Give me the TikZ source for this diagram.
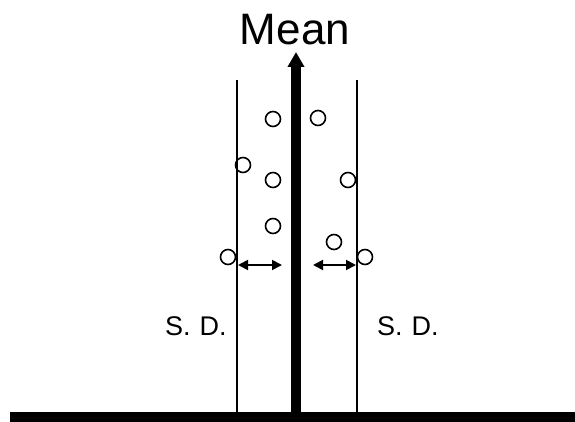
\documentclass[tikz,border=0pt]{standalone}
\usepackage{fontspec}
\setmainfont{Liberation Sans}
\usetikzlibrary{arrows.meta}
\begin{document}
\begin{tikzpicture}[x=1pt,y=-1pt,
  pt/.style={circle,draw,line width=1.6pt,minimum size=15pt,inner sep=0pt},
  sdline/.style={line width=1.4pt},
  sdarrow/.style={line width=1.8pt,{Triangle[length=10pt,width=10pt]}-{Triangle[length=10pt,width=10pt]}},
  lbl/.style={inner sep=0pt,anchor=base}]
\useasboundingbox (0,0) rectangle (575,422);
% bottom bar
\fill (10,412) rectangle (575,422);
% SD lines
\coordinate (lt) at (237,80); \coordinate (lb) at (237,412);
\coordinate (rt) at (357,80); \coordinate (rb) at (357,412);
\draw[sdline] (lt) -- (lb);
\draw[sdline] (rt) -- (rb);
% mean arrow
\coordinate (mb) at (296,412); \coordinate (mt) at (296,52);
\draw[line width=10pt,-{Triangle[length=15pt,width=16pt]}] (mb) -- (mt);
\node[lbl,font=\fontsize{44}{44}\selectfont] (mean) at (295,45) {Mean};
% points
\node[pt] (p1) at (273,119) {};
\node[pt] (p2) at (318,118) {};
\node[pt] (p3) at (243,165) {};
\node[pt] (p4) at (273,180) {};
\node[pt] (p5) at (348,180) {};
\node[pt] (p6) at (273,226) {};
\node[pt] (p7) at (334,242) {};
\node[pt] (p8) at (228,257) {};
\node[pt] (p9) at (365,257) {};
% arrows
\coordinate (a1) at (238,265); \coordinate (a2) at (282,265);
\coordinate (b1) at (313,265); \coordinate (b2) at (356,265);
\draw[sdarrow] (a1) -- (a2);
\draw[sdarrow] (b1) -- (b2);
% labels
\node[lbl,font=\fontsize{27}{27}\selectfont,anchor=base west] (sdl) at (165,335) {S.\hspace{9pt}D.};
\node[lbl,font=\fontsize{27}{27}\selectfont,anchor=base west] (sdr) at (377,335) {S.\hspace{9pt}D.};
\end{tikzpicture}
\end{document}
